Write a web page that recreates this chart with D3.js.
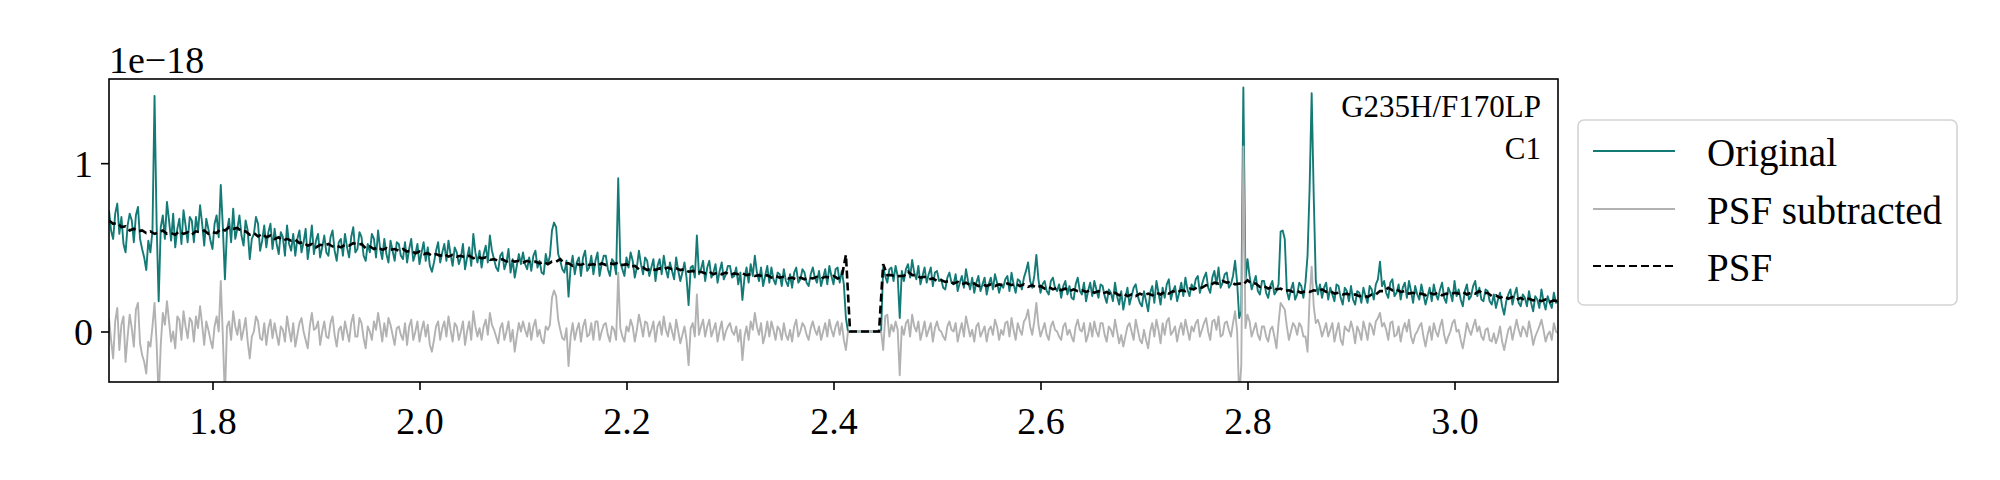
<!DOCTYPE html>
<html><head><meta charset="utf-8">
<script src="https://cdn.jsdelivr.net/npm/d3@7/dist/d3.min.js"></script>
<style>body{margin:0;background:#fff}svg{display:block}</style>
</head><body><svg id="chart" width="2000" height="480"></svg>
<script>
// ---- data (flux in units of 1e-18), wavelength grids in micron ----
const waveStart = 1.7;
const fluxStep = 0.002;   // sampling of Original / PSF subtracted
const psfStep = 0.004;    // sampling of PSF model

const original = [
0.72,0.60,0.55,0.70,0.76,0.58,0.68,0.52,0.47,0.63,0.70,0.66,0.53,0.69,0.74,0.55,0.49,0.44,0.365,0.54,
0.47,0.60,1.40,0.64,0.18,0.62,0.69,0.55,0.77,0.66,0.54,0.70,0.50,0.61,0.67,0.52,0.72,0.63,0.53,0.68,
0.66,0.53,0.68,0.59,0.75,0.64,0.51,0.67,0.61,0.54,0.49,0.64,0.69,0.56,0.87,0.62,0.31,0.60,0.67,0.53,
0.73,0.55,0.61,0.69,0.57,0.51,0.66,0.60,0.43,0.55,0.58,0.68,0.64,0.48,0.54,0.63,0.50,0.59,0.64,0.49,
0.61,0.52,0.46,0.59,0.56,0.45,0.63,0.52,0.48,0.58,0.45,0.55,0.60,0.47,0.53,0.61,0.43,0.52,0.63,0.46,
0.54,0.58,0.44,0.50,0.57,0.47,0.45,0.56,0.60,0.48,0.42,0.53,0.55,0.45,0.58,0.50,0.44,0.56,0.62,0.47,
0.49,0.59,0.56,0.45,0.42,0.52,0.47,0.58,0.55,0.44,0.60,0.49,0.43,0.55,0.46,0.41,0.54,0.48,0.42,0.53,
0.52,0.45,0.43,0.53,0.41,0.49,0.55,0.42,0.46,0.52,0.40,0.47,0.53,0.42,0.50,0.39,0.355,0.41,0.48,0.53,
0.41,0.47,0.52,0.42,0.54,0.46,0.39,0.50,0.47,0.40,0.44,0.52,0.37,0.44,0.50,0.39,0.58,0.47,0.41,0.48,
0.38,0.46,0.51,0.41,0.57,0.48,0.43,0.38,0.36,0.45,0.47,0.37,0.41,0.49,0.35,0.43,0.32,0.39,0.46,0.40,
0.47,0.40,0.37,0.44,0.36,0.45,0.48,0.38,0.42,0.35,0.34,0.46,0.40,0.45,0.60,0.647,0.62,0.46,0.42,0.37,
0.35,0.42,0.207,0.38,0.45,0.34,0.41,0.44,0.33,0.44,0.48,0.36,0.38,0.45,0.34,0.42,0.47,0.33,0.40,0.45,
0.45,0.37,0.33,0.43,0.41,0.34,0.91,0.41,0.37,0.33,0.44,0.38,0.47,0.42,0.32,0.38,0.48,0.40,0.34,0.44,
0.42,0.33,0.38,0.43,0.30,0.39,0.43,0.34,0.45,0.37,0.32,0.41,0.36,0.31,0.44,0.36,0.30,0.35,0.41,0.32,
0.157,0.38,0.39,0.32,0.57,0.34,0.37,0.42,0.30,0.38,0.42,0.32,0.35,0.40,0.29,0.36,0.41,0.31,0.34,0.39,
0.39,0.32,0.33,0.38,0.28,0.35,0.187,0.32,0.38,0.29,0.40,0.33,0.45,0.35,0.30,0.38,0.27,0.33,0.39,0.29,
0.38,0.31,0.28,0.35,0.34,0.27,0.37,0.30,0.27,0.34,0.26,0.35,0.38,0.29,0.31,0.37,0.35,0.29,0.27,0.34,
0.38,0.32,0.29,0.36,0.27,0.32,0.37,0.28,0.39,0.33,0.28,0.37,0.38,0.29,0.36,0.28,0.08,0,0,0,
0,0,0,0,0,0,0,0,0,0,0,0,0,0,0.38,0.33,0.29,0.37,0.38,0.30,
0.39,0.33,0.08,0.36,0.30,0.37,0.40,0.32,0.425,0.35,0.31,0.39,0.28,0.33,0.38,0.29,0.34,0.38,0.27,0.35,
0.36,0.30,0.31,0.26,0.25,0.32,0.35,0.29,0.28,0.34,0.24,0.29,0.33,0.26,0.37,0.30,0.25,0.32,0.23,0.29,
0.33,0.24,0.28,0.32,0.22,0.28,0.32,0.25,0.34,0.29,0.23,0.28,0.26,0.31,0.33,0.24,0.35,0.28,0.23,0.31,
0.30,0.25,0.32,0.36,0.41,0.30,0.26,0.33,0.455,0.31,0.23,0.28,0.30,0.24,0.22,0.30,0.32,0.26,0.24,0.28,
0.20,0.27,0.30,0.22,0.27,0.20,0.19,0.28,0.32,0.24,0.22,0.29,0.18,0.24,0.29,0.21,0.30,0.25,0.20,0.28,
0.27,0.21,0.17,0.25,0.23,0.18,0.29,0.21,0.16,0.24,0.13,0.20,0.26,0.16,0.21,0.26,0.28,0.21,0.17,0.15,
0.24,0.18,0.12,0.23,0.27,0.17,0.30,0.23,0.16,0.26,0.20,0.28,0.31,0.19,0.24,0.27,0.18,0.23,0.29,0.21,
0.32,0.25,0.21,0.28,0.25,0.31,0.33,0.23,0.28,0.32,0.35,0.26,0.23,0.32,0.36,0.28,0.38,0.26,0.29,0.34,
0.35,0.26,0.28,0.33,0.42,0.29,0.08,0.12,1.45,0.30,0.43,0.33,0.25,0.29,0.33,0.24,0.22,0.30,0.30,0.23,
0.20,0.27,0.30,0.22,0.24,0.28,0.593,0.60,0.55,0.24,0.19,0.25,0.29,0.19,0.22,0.29,0.27,0.20,0.29,0.45,
0.85,1.415,0.80,0.30,0.22,0.28,0.20,0.26,0.29,0.19,0.26,0.22,0.18,0.28,0.27,0.20,0.16,0.26,0.24,0.18,
0.27,0.19,0.16,0.24,0.23,0.17,0.26,0.21,0.17,0.27,0.25,0.19,0.28,0.31,0.415,0.27,0.30,0.23,0.20,0.29,
0.31,0.21,0.23,0.28,0.19,0.26,0.29,0.20,0.30,0.24,0.17,0.27,0.22,0.19,0.28,0.22,0.16,0.21,0.26,0.18,
0.28,0.22,0.19,0.25,0.29,0.20,0.17,0.26,0.23,0.18,0.30,0.21,0.25,0.19,0.15,0.24,0.28,0.19,0.21,0.27,
0.30,0.21,0.26,0.19,0.18,0.25,0.24,0.18,0.16,0.22,0.14,0.19,0.23,0.15,0.10,0.18,0.22,0.25,0.16,0.22,
0.26,0.17,0.15,0.22,0.20,0.15,0.24,0.17,0.12,0.21,0.19,0.14,0.25,0.18,0.13,0.21,0.17,0.14,0.23,0.17,
0.18];

const psfSubtracted = [
0.08,-0.05,-0.16,0.06,0.14,-0.11,0.04,0.09,-0.18,-0.03,0.10,0.02,-0.09,0.13,0.17,-0.07,-0.14,-0.18,-0.25,-0.06,
-0.09,0.03,0.17,-0.07,-0.40,-0.08,0.11,0.04,0.18,0.06,-0.06,0.00,-0.10,0.09,0.07,-0.05,0.12,0.03,-0.04,0.08,
0.06,-0.06,0.09,0.02,0.15,0.04,-0.08,0.06,0.01,-0.05,-0.10,0.03,0.09,0.00,0.30,-0.03,-0.40,0.03,0.06,-0.05,
0.12,0.03,-0.02,0.07,-0.05,0.01,0.08,-0.06,-0.16,-0.03,0.00,0.09,0.06,-0.04,-0.05,0.05,-0.08,0.02,0.07,-0.04,
0.05,-0.02,-0.08,0.03,0.01,-0.06,0.09,0.01,-0.06,0.05,-0.09,-0.02,0.05,0.08,0.00,-0.05,-0.10,0.03,0.11,0.01,
0.02,0.06,-0.08,0.00,0.06,-0.03,-0.04,0.05,0.09,-0.02,-0.09,0.01,0.03,-0.05,0.06,0.00,-0.06,0.05,0.10,-0.03,
-0.03,0.08,0.05,-0.04,-0.10,0.03,0.00,-0.05,0.06,0.01,0.11,0.03,-0.06,0.05,-0.03,0.08,0.04,-0.02,-0.08,0.02,
0.03,-0.02,-0.05,0.05,-0.08,0.03,0.07,-0.05,0.00,0.06,-0.06,0.01,0.06,-0.03,0.04,-0.08,-0.12,-0.05,0.03,0.06,
-0.05,0.02,0.06,-0.03,0.09,0.01,-0.06,0.05,0.03,-0.05,0.00,0.06,-0.08,0.00,0.06,-0.05,0.12,0.03,-0.03,0.02,
-0.05,0.03,0.07,-0.02,0.11,0.04,0.01,-0.03,-0.07,0.02,0.05,-0.05,0.00,0.06,-0.06,0.01,-0.12,-0.03,0.05,0.00,
0.06,0.01,-0.03,0.05,-0.05,0.03,0.07,-0.03,0.01,-0.05,-0.07,0.03,0.01,0.04,0.20,0.243,0.21,0.07,0.01,-0.04,
-0.05,0.02,-0.205,-0.03,0.05,-0.05,0.01,0.05,-0.06,0.03,0.07,-0.03,-0.02,0.05,-0.05,0.06,0.06,-0.05,0.00,0.04,
0.05,-0.02,-0.06,0.03,0.01,-0.05,0.35,0.02,-0.03,-0.06,0.03,0.00,0.07,0.03,-0.06,0.01,0.10,0.04,-0.03,0.06,
0.05,-0.03,0.01,0.06,-0.06,0.03,0.06,-0.02,0.09,0.01,-0.03,0.05,0.00,-0.05,0.07,0.00,-0.07,-0.02,0.03,-0.05,
-0.20,0.02,0.05,-0.03,0.22,-0.02,0.03,0.07,-0.03,0.03,0.07,-0.03,0.01,0.05,-0.06,0.01,0.06,-0.05,0.00,0.03,
0.05,0.00,-0.02,0.03,-0.06,0.01,-0.17,-0.03,0.03,-0.05,0.06,0.01,0.11,0.03,-0.02,0.05,-0.07,-0.02,0.06,-0.03,
0.06,0.01,-0.05,0.03,0.01,-0.05,0.05,-0.02,-0.05,0.01,-0.06,0.03,0.07,-0.03,0.00,0.05,0.03,-0.02,-0.05,0.02,
0.06,0.01,-0.02,0.03,-0.05,0.00,0.05,-0.03,0.07,0.01,-0.03,0.03,0.06,-0.02,0.05,-0.05,-0.11,0,0,0,
0,0,0,0,0,0,0,0,0,0,0,0,0,0,-0.11,0.09,0.10,-0.03,0.04,0.00,
0.06,0.01,-0.26,0.03,-0.02,0.05,0.07,-0.03,0.10,0.03,0.00,0.06,-0.05,0.00,0.06,-0.03,0.01,0.05,-0.06,0.02,
0.06,0.01,0.00,-0.03,-0.05,0.03,0.06,0.01,0.00,0.05,-0.06,0.00,0.05,-0.03,0.09,0.03,-0.03,0.01,-0.06,0.03,
0.05,-0.03,0.00,0.03,-0.06,0.01,0.03,-0.02,0.07,0.03,-0.05,0.01,-0.02,0.05,0.06,-0.03,0.08,0.01,-0.05,0.05,
0.01,-0.02,0.06,0.08,0.13,0.03,-0.02,0.06,0.17,0.04,-0.03,0.01,0.05,-0.02,-0.05,0.03,0.06,0.01,0.00,-0.03,
-0.05,0.03,0.05,-0.02,0.01,-0.03,-0.06,0.03,0.07,0.01,0.00,0.05,-0.06,-0.02,0.05,-0.03,0.06,0.00,-0.03,0.05,
0.05,-0.02,-0.06,0.03,0.01,-0.03,0.07,0.00,-0.07,-0.02,-0.09,-0.03,0.03,0.05,0.00,-0.05,0.07,0.01,-0.05,-0.07,
0.01,-0.05,-0.10,0.00,0.05,-0.03,0.07,0.01,-0.07,0.05,-0.02,0.06,0.08,-0.02,0.00,0.03,-0.06,0.01,0.05,-0.02,
0.07,0.01,-0.05,0.03,0.00,0.05,0.07,-0.03,0.01,0.05,0.08,0.00,-0.05,0.06,0.07,0.01,0.09,-0.03,-0.02,0.05,
0.06,0.01,-0.03,0.05,0.12,0.00,-0.40,-0.20,1.10,0.02,0.10,0.06,-0.03,0.01,0.05,-0.02,-0.05,0.03,0.03,-0.03,
-0.06,0.01,0.03,-0.03,-0.10,0.05,0.17,0.15,0.13,0.03,-0.05,0.00,0.05,0.03,-0.02,0.05,0.03,-0.03,-0.03,-0.12,
0.20,0.385,0.15,0.05,0.07,0.03,-0.03,0.01,0.05,-0.03,0.01,0.05,-0.06,0.00,0.05,-0.05,-0.08,0.03,0.01,0.00,
0.06,0.01,-0.07,0.03,0.00,-0.05,0.06,0.01,-0.05,0.05,0.03,-0.02,0.06,0.08,0.11,0.03,0.05,0.01,-0.05,0.05,
0.06,-0.03,-0.02,0.03,-0.06,0.01,0.05,0.00,0.07,-0.03,-0.07,-0.02,0.00,0.03,0.05,-0.03,-0.09,-0.02,0.03,-0.05,
0.05,0.00,-0.03,0.03,0.07,-0.02,-0.07,-0.03,0.00,0.05,0.07,0.00,0.01,-0.05,-0.10,-0.03,0.05,0.01,-0.02,0.03,
0.07,0.00,0.03,-0.03,-0.05,0.01,0.02,-0.05,-0.06,-0.01,-0.07,-0.03,0.03,-0.06,-0.11,-0.05,0.01,0.03,-0.05,0.01,
0.07,0.01,-0.03,0.03,0.01,-0.03,0.06,0.00,-0.08,-0.03,0.00,0.03,0.07,0.01,-0.06,-0.02,0.00,-0.05,0.05,0.00,
-0.01];

const psf = [
0.66,0.64,0.645,0.62,0.625,0.60,0.61,0.595,0.60,0.585,
0.595,0.58,0.59,0.60,0.58,0.585,0.575,0.595,0.58,0.59,
0.575,0.595,0.59,0.60,0.58,0.59,0.585,0.61,0.60,0.62,
0.61,0.615,0.595,0.595,0.575,0.585,0.565,0.58,0.56,0.57,
0.55,0.56,0.54,0.55,0.54,0.545,0.525,0.53,0.51,0.52,
0.50,0.515,0.51,0.52,0.505,0.51,0.50,0.515,0.51,0.525,
0.515,0.52,0.495,0.505,0.49,0.50,0.485,0.495,0.485,0.49,
0.48,0.49,0.475,0.48,0.465,0.475,0.46,0.465,0.45,0.46,
0.45,0.46,0.445,0.455,0.445,0.45,0.44,0.45,0.435,0.445,
0.435,0.44,0.425,0.43,0.42,0.43,0.415,0.425,0.415,0.42,
0.41,0.42,0.41,0.415,0.405,0.415,0.40,0.415,0.415,0.43,
0.405,0.405,0.39,0.40,0.395,0.405,0.395,0.40,0.39,0.405,
0.395,0.405,0.40,0.41,0.395,0.40,0.385,0.39,0.37,0.38,
0.365,0.375,0.365,0.375,0.37,0.38,0.37,0.375,0.365,0.37,
0.355,0.36,0.35,0.355,0.345,0.355,0.34,0.35,0.34,0.35,
0.335,0.345,0.34,0.345,0.335,0.34,0.33,0.335,0.325,0.335,
0.32,0.33,0.32,0.325,0.315,0.32,0.31,0.32,0.31,0.32,
0.315,0.325,0.315,0.325,0.32,0.33,0.315,0.325,0.455,0,
0,0,0,0,0,0,0,0.40,0.335,0.335,
0.325,0.33,0.33,0.355,0.335,0.335,0.32,0.325,0.31,0.315,
0.30,0.305,0.295,0.30,0.285,0.295,0.28,0.29,0.275,0.285,
0.27,0.28,0.27,0.28,0.27,0.28,0.275,0.285,0.275,0.285,
0.27,0.28,0.265,0.275,0.26,0.27,0.255,0.265,0.25,0.26,
0.245,0.255,0.24,0.25,0.24,0.245,0.235,0.245,0.23,0.24,
0.225,0.235,0.22,0.23,0.215,0.225,0.21,0.22,0.21,0.225,
0.215,0.225,0.215,0.23,0.22,0.235,0.225,0.24,0.23,0.245,
0.24,0.255,0.25,0.265,0.26,0.275,0.275,0.29,0.285,0.30,
0.29,0.295,0.28,0.285,0.28,0.305,0.285,0.285,0.265,0.27,
0.255,0.265,0.25,0.255,0.24,0.245,0.235,0.24,0.23,0.24,
0.235,0.245,0.24,0.25,0.235,0.24,0.225,0.23,0.22,0.225,
0.215,0.22,0.21,0.215,0.205,0.22,0.22,0.24,0.24,0.26,
0.245,0.25,0.235,0.24,0.225,0.23,0.22,0.225,0.215,0.23,
0.22,0.23,0.215,0.225,0.22,0.23,0.225,0.235,0.22,0.23,
0.225,0.24,0.225,0.23,0.21,0.215,0.20,0.21,0.195,0.205,
0.19,0.20,0.185,0.195,0.185,0.19,0.18,0.19,0.175,0.185,
0.18];

const xTickValues = [1.8, 2.0, 2.2, 2.4, 2.6, 2.8, 3.0];
const yTickValues = [0, 1];
const seriesNames = ["Original", "PSF subtracted", "PSF"];
const annotationLines = ["G235H/F170LP", "C1"];
const offsetLabel = "1e\u221218";

if (original.length !== 701 || psfSubtracted.length !== 701 || psf.length !== 351) {
  throw new Error("length mismatch " + original.length + " " + psfSubtracted.length + " " + psf.length);
}

// ---- layout ----
const W = 2000, H = 480;
const L = 109, R = 1558, T = 79, B = 382;
const FONT = "'Liberation Serif','Times New Roman',Times,serif";
const TEAL = "#147a76", GREY = "#b2b2b2";

const fluxWave = original.map((_, i) => +(waveStart + i * fluxStep).toFixed(4));
const psfWave = psf.map((_, i) => +(waveStart + i * psfStep).toFixed(4));

const x = d3.scaleLinear().domain([1.7, 3.1]).range([L, R]);
const y = d3.scaleLinear().domain([-0.3, 1.5]).range([B, T]);

const svg = d3.select("#chart");
svg.append("rect").attr("width", W).attr("height", H).attr("fill", "#fff");

svg.append("defs").append("clipPath").attr("id", "plotclip")
  .append("rect").attr("x", L).attr("y", T).attr("width", R - L).attr("height", B - T);

const lineOn = (wave) => d3.line().x((d, i) => x(wave[i])).y(d => y(d));

const plot = svg.append("g").attr("clip-path", "url(#plotclip)");
plot.append("path").attr("d", lineOn(fluxWave)(original))
  .attr("fill", "none").attr("stroke", TEAL).attr("stroke-width", 1.9).attr("stroke-linejoin", "round");
plot.append("path").attr("d", lineOn(fluxWave)(psfSubtracted))
  .attr("fill", "none").attr("stroke", GREY).attr("stroke-width", 1.9).attr("stroke-linejoin", "round");
plot.append("path").attr("d", lineOn(psfWave)(psf))
  .attr("fill", "none").attr("stroke", "#000").attr("stroke-width", 2.6)
  .attr("stroke-dasharray", "8,4");

// axes
const xAxis = svg.append("g").attr("transform", `translate(0,${B})`)
  .call(d3.axisBottom(x).tickValues(xTickValues).tickFormat(d3.format(".1f")).tickSize(8).tickPadding(8));
const yAxis = svg.append("g").attr("transform", `translate(${L},0)`)
  .call(d3.axisLeft(y).tickValues(yTickValues).tickFormat(d3.format("d")).tickSize(8).tickPadding(8));
[xAxis, yAxis].forEach(g => {
  g.attr("font-family", null).attr("font-size", null);
  g.select(".domain").remove();
  g.selectAll(".tick line").attr("stroke", "#000").attr("stroke-width", 1.6);
  g.selectAll(".tick text").attr("fill", "#000")
    .attr("font-family", FONT).attr("font-size", 38);
});
xAxis.selectAll(".tick text").attr("dy", "0.95em");
yAxis.selectAll(".tick text").attr("dy", "0.34em");

svg.append("rect").attr("x", L).attr("y", T).attr("width", R - L).attr("height", B - T)
  .attr("fill", "none").attr("stroke", "#000").attr("stroke-width", 1.6);

// offset text
svg.append("text").attr("x", L).attr("y", 73).text(offsetLabel)
  .attr("font-family", FONT).attr("font-size", 38).attr("fill", "#000");

// annotation
svg.append("g").selectAll("text").data(annotationLines).join("text")
  .attr("x", 1541).attr("y", (d, i) => 117 + i * 42)
  .attr("text-anchor", "end").text(d => d)
  .attr("font-family", FONT).attr("font-size", 31).attr("fill", "#000");

// legend
const leg = svg.append("g");
leg.append("rect").attr("x", 1578).attr("y", 120).attr("width", 379).attr("height", 185)
  .attr("rx", 6).attr("fill", "#fff").attr("fill-opacity", 0.8)
  .attr("stroke", "#d4d4d4").attr("stroke-width", 1.6);
const legStyles = [
  {stroke: TEAL, w: 1.9, dash: null},
  {stroke: GREY, w: 1.9, dash: null},
  {stroke: "#000", w: 2.2, dash: "8,4"}
];
const rowY = [151, 209, 266];
seriesNames.forEach((name, i) => {
  const s = legStyles[i];
  const l = leg.append("line").attr("x1", 1593).attr("x2", 1675)
    .attr("y1", rowY[i]).attr("y2", rowY[i])
    .attr("stroke", s.stroke).attr("stroke-width", s.w);
  if (s.dash) l.attr("stroke-dasharray", s.dash);
  leg.append("text").attr("x", 1707).attr("y", rowY[i] + 15).text(name)
    .attr("font-family", FONT).attr("font-size", 39).attr("fill", "#000");
});
</script>
</body></html>
